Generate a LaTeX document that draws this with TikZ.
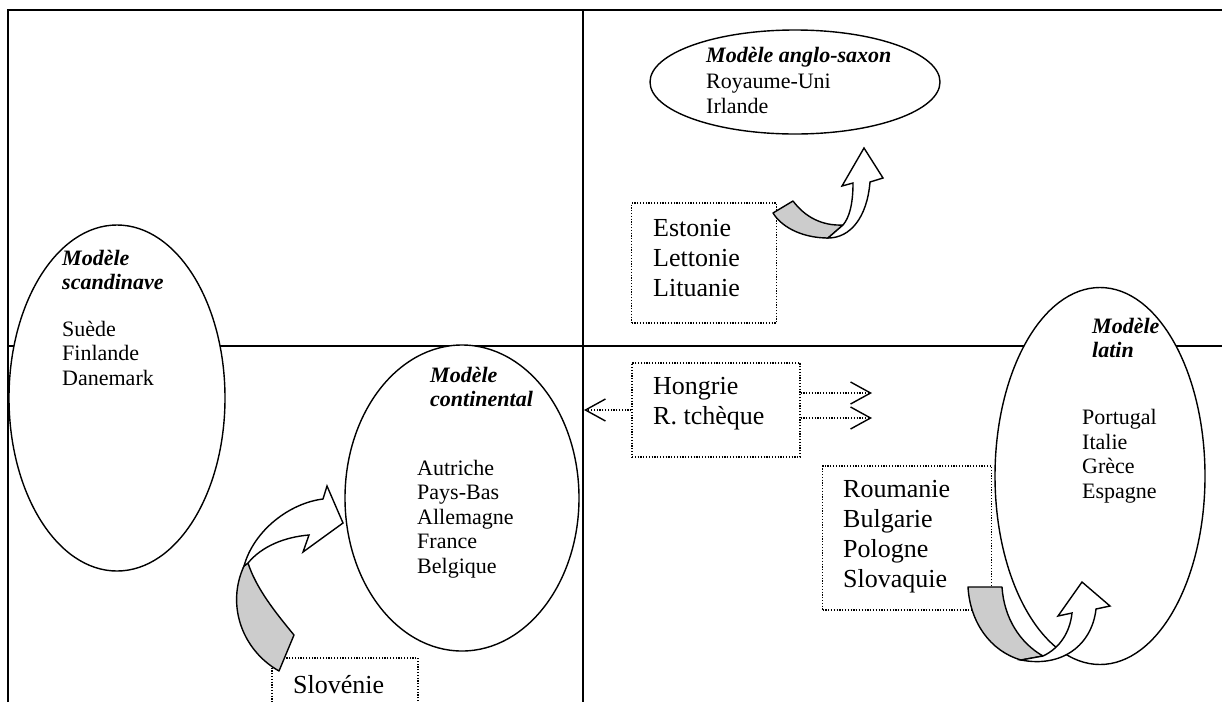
\documentclass[tikz,border=0pt]{standalone}
\usepackage{fontspec}
\setmainfont{Liberation Serif}
\usetikzlibrary{shapes.geometric,arrows.meta}

\tikzset{
  frame/.style={line width=1.3pt},
  model/.style={draw, ellipse, fill=white, line width=1.4pt, inner sep=0pt},
  modtitle/.style={anchor=west, inner sep=0pt, align=left, font=\fontsize{22}{24.5}\selectfont\bfseries\itshape},
  modlist/.style={anchor=west, inner sep=0pt, align=left, font=\fontsize{22}{24.5}\selectfont},
  grp/.style={draw, fill=white, line width=1.2pt, dash pattern=on 1.2pt off 1.6pt, inner sep=0pt},
  grptxt/.style={anchor=west, inner sep=0pt, align=left, font=\fontsize{26}{30}\selectfont},
  back/.style={draw, fill=black!20, line width=1.4pt, line join=round},
  front/.style={draw, fill=white, line width=1.4pt, line join=miter},
  dotlink/.style={line width=1.2pt, dash pattern=on 1.2pt off 1.6pt, -{Straight Barb[length=20pt,width=22pt,line width=1.4pt]}}
}

\begin{document}
\begin{tikzpicture}[x=1pt,y=-1pt]
\useasboundingbox (0,0) rectangle (1222,702);
\clip (0,0) rectangle (1222,702);

% cadre
\draw[frame] (8,702) -- (8,10) -- (1222,10);
\draw[frame] (583,10) -- (583,702);
\draw[frame] (8,346) -- (1222,346);

% modeles
\node[model, minimum width=216pt, minimum height=346pt] (scand) at (117,398) {};
\node[modtitle] (scandT) at (62,270) {Modèle\\scandinave};
\node[modlist] (scandL) at (62,353) {Suède\\Finlande\\Danemark};

\node[model, minimum width=234pt, minimum height=306pt] (cont) at (462,498) {};
\node[modtitle] (contT) at (430,387) {Modèle\\continental};
\node[modlist] (contL) at (417,519) {Autriche\\Pays-Bas\\Allemagne\\France\\Belgique};

\node[model, minimum width=290pt, minimum height=104pt] (anglo) at (795,82) {};
\node[modtitle] (angloT) at (706,57) {Modèle anglo-saxon};
\node[modlist] (angloL) at (706,94) {Royaume-Uni\\Irlande};

\node[model, minimum width=210pt, minimum height=377pt] (latin) at (1100,476) {};
\node[modtitle] (latinT) at (1092,338) {Modèle\\latin};
\node[modlist] (latinL) at (1082,456) {Portugal\\Italie\\Grèce\\Espagne};

% nouveaux membres
\node[grp, minimum width=145pt, minimum height=120pt] (baltes) at (704,263) {};
\node[grptxt] (baltesT) at (653,258) {Estonie\\Lettonie\\Lituanie};
\node[grp, minimum width=168pt, minimum height=94pt] (hongrie) at (716,410) {};
\node[grptxt] (hongrieT) at (653,404) {Hongrie\\R. tchèque};
\node[grp, minimum width=169pt, minimum height=144pt] (roumanie) at (907,538) {};
\node[grptxt] (roumanieT) at (843,537) {Roumanie\\Bulgarie\\Pologne\\Slovaquie};
\node[grp, minimum width=146pt, minimum height=54pt] (slovenie) at (345,685) {};
\node[grptxt] (slovenieT) at (293,685) {Slovénie};

% fleches pointillees
\coordinate (tocont) at (584,410);
\coordinate (tolat1) at (872,393);
\coordinate (tolat2) at (872,418);
\draw[dotlink] (hongrie.west |- tocont) -- (tocont);
\draw[dotlink] (hongrie.east |- tolat1) -- (tolat1);
\draw[dotlink] (hongrie.east |- tolat2) -- (tolat2);

% fleche vers anglo-saxon
\draw[back] (773,213) -- (793,201) .. controls (805,217) and (822,226) .. (843,225)
  -- (828,238) .. controls (805,238) and (783,229) .. (773,213) -- cycle;
\draw[front] (828,238) .. controls (850,238) and (867,218) .. (870,182) -- (883,178)
  -- (864,148) -- (842,186) -- (853,183) .. controls (853,205) and (849,218) .. (843,225) -- cycle;

% fleche vers latin
\draw[back] (968,587) -- (1002,587) .. controls (1004,618) and (1020,643) .. (1043,656)
  -- (1021,660) .. controls (990,651) and (970,622) .. (968,587) -- cycle;
\draw[front] (1021,660) .. controls (1062,668) and (1092,645) .. (1096,609) -- (1110,606)
  -- (1082,582) -- (1058,616) -- (1072,613) .. controls (1070,632) and (1060,648) .. (1043,656) -- cycle;

% fleche vers continental
\draw[back] (279,671) -- (294,635) .. controls (275,612) and (256,588) .. (248,563)
  -- (244,566) .. controls (226,605) and (242,650) .. (279,671) -- cycle;
\draw[front] (244,566) .. controls (254,530) and (290,503) .. (323,499) -- (327,486)
  -- (343,523) -- (303,552) -- (309,535) .. controls (285,537) and (262,546) .. (248,563) -- cycle;
\end{tikzpicture}
\end{document}
